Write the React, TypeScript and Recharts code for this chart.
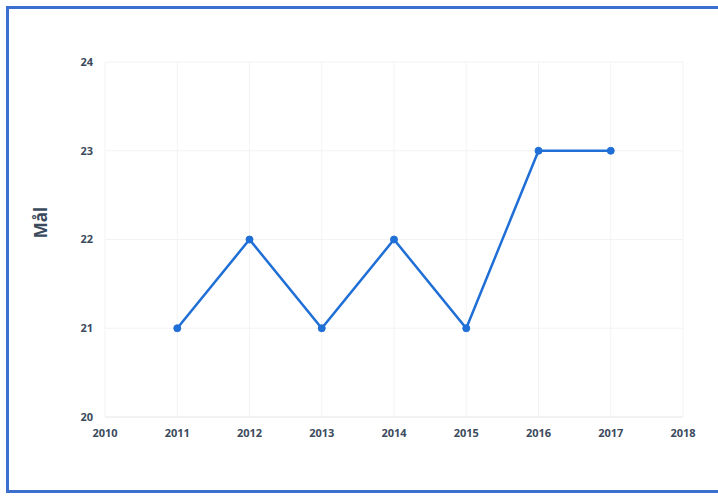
import React from 'react';
import { LineChart, Line, XAxis, YAxis, CartesianGrid, Label } from 'recharts';

const years = [2011, 2012, 2013, 2014, 2015, 2016, 2017];
const goals = [21, 22, 21, 22, 21, 23, 23];
const xTicks = [2010, 2011, 2012, 2013, 2014, 2015, 2016, 2017, 2018];
const yTicks = [20, 21, 22, 23, 24];

const data = years.map((year, i) => ({ year, goals: goals[i] }));

const tickStyle = { fill: '#3b4a5c', fontSize: 11, fontWeight: 700, fontFamily: 'Open Sans, sans-serif' };

export default function App() {
  return (
    <div style={{ position: 'absolute', left: 0, top: 0, width: 718, height: 499, background: '#fff', overflow: 'hidden' }}>
      <div
        style={{
          position: 'absolute',
          left: 6,
          top: 6,
          width: 730,
          height: 487,
          border: '3px solid #3d6fce',
          boxSizing: 'border-box'
        }}
      />
      <div style={{ position: 'absolute', left: 0, top: 0 }}>
        <LineChart width={718} height={499} data={data} margin={{ top: 62, right: 35, bottom: 52, left: 0 }}>
          <CartesianGrid stroke="#f3f3f3" strokeWidth={1} />
          <XAxis
            dataKey="year"
            type="number"
            domain={[2010, 2018]}
            ticks={xTicks}
            tick={tickStyle}
            tickLine={false}
            axisLine={{ stroke: '#ececec' }}
            tickMargin={6}
            height={30}
            interval={0}
          />
          <YAxis
            type="number"
            domain={[20, 24]}
            ticks={yTicks}
            tick={tickStyle}
            tickLine={false}
            axisLine={false}
            tickMargin={6}
            width={105}
          >
            <Label
              content={(props: any) => {
                const vb = props.viewBox || { x: 0, y: 0, height: 0 };
                const cx = vb.x + 40;
                const cy = vb.y + vb.height / 2 - 17;
                return (
                  <text
                    x={cx}
                    y={cy}
                    transform={`rotate(-90, ${cx}, ${cy})`}
                    textAnchor="middle"
                    dominantBaseline="central"
                    fill="#3b4a5c"
                    fontSize={17}
                    fontWeight={700}
                    fontFamily="Open Sans, sans-serif"
                  >
                    Mål
                  </text>
                );
              }}
            />
          </YAxis>
          <Line
            type="linear"
            dataKey="goals"
            stroke="#1f6fd6"
            strokeWidth={2.5}
            dot={{ r: 3.5, fill: '#1f6fd6', stroke: '#1f6fd6', strokeWidth: 1 }}
            isAnimationActive={false}
          />
        </LineChart>
      </div>
    </div>
  );
}
